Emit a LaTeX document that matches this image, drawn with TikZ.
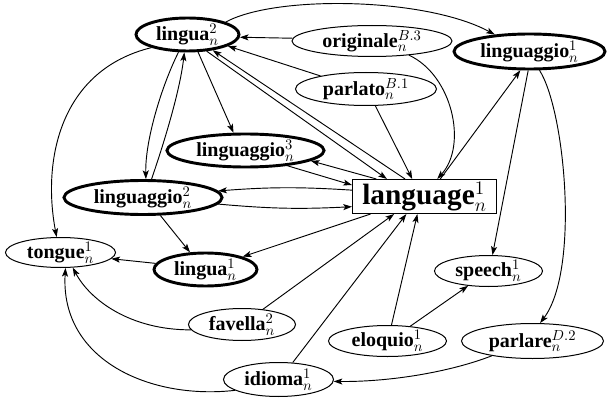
\documentclass[tikz,border=0pt]{standalone}
\usepackage{fontspec}
\setmainfont{Liberation Serif}
\usetikzlibrary{shapes.geometric,arrows.meta}
\begin{document}
\begin{tikzpicture}[x=0.75pt,y=-0.75pt,
  sz/.style 2 args={minimum width=#1*0.75pt, minimum height=#2*0.75pt},
  nd/.style={ellipse, draw, inner sep=0pt, font=\fontsize{15}{18}\selectfont},
  thinnd/.style={nd, line width=0.75pt},
  thicknd/.style={nd, line width=2.2pt},
  bignd/.style={rectangle, draw, line width=0.8pt, inner sep=0pt, font=\fontsize{22}{26}\selectfont},
  edge/.style={line width=0.7pt, -{Stealth[length=6.5pt,width=4.5pt,inset=1.5pt]}}
]
\useasboundingbox (0,0) rectangle (611,403);
% nodes
\node[thicknd, sz={103}{33}] (lingua2) at (187.5,34.5) {\textbf{lingua}$^{2}_{n}$};
\node[thinnd, sz={160}{31}] (originale) at (372,41) {\textbf{originale}$^{B.3}_{n}$};
\node[thicknd, sz={151}{35}] (linguaggio1) at (529.5,51.5) {\textbf{linguaggio}$^{1}_{n}$};
\node[thinnd, sz={141}{33}] (parlato) at (366,89) {\textbf{parlato}$^{B.1}_{n}$};
\node[thicknd, sz={157}{33}] (linguaggio3) at (245.5,150.5) {\textbf{linguaggio}$^{3}_{n}$};
\node[bignd, sz={144}{34}] (language) at (424.5,196.5) {\textbf{language}$^{1}_{n}$};
\node[thicknd, sz={158}{34}] (linguaggio2) at (143,197.5) {\textbf{linguaggio}$^{2}_{n}$};
\node[thinnd, sz={110}{30}] (tongue) at (60.5,252.5) {\textbf{tongue}$^{1}_{n}$};
\node[thicknd, sz={103}{33}] (lingua1) at (205.5,269.5) {\textbf{lingua}$^{1}_{n}$};
\node[thinnd, sz={108}{31}] (speech) at (488.5,271) {\textbf{speech}$^{1}_{n}$};
\node[thinnd, sz={107}{32}] (favella) at (242,324.5) {\textbf{favella}$^{2}_{n}$};
\node[thinnd, sz={118}{31}] (eloquio) at (387.5,341) {\textbf{eloquio}$^{1}_{n}$};
\node[thinnd, sz={142}{35}] (parlare) at (532.5,341) {\textbf{parlare}$^{D.2}_{n}$};
\node[thinnd, sz={110}{34}] (idioma) at (278.5,379.5) {\textbf{idioma}$^{1}_{n}$};
% edges
\draw[edge] (lingua2.18) .. controls (275,-5) and (425,-3) .. (linguaggio1.154);
\draw[edge] (originale.178) -- (lingua2.-3);
\draw[edge] (parlato.164) -- (lingua2.-16);
\draw[edge] (lingua2.-41) -- (language.155);
\draw[edge] (language.138) -- (lingua2.-32);
\draw[edge] (lingua2.-59) -- (linguaggio3.124);
\draw[edge] (parlato.-61) -- (language.125);
\draw[edge] (originale.-21) .. controls (452,75) and (468,145) .. (language.54);
\draw[edge] (language.48) -- (linguaggio1.-116);
\draw[edge] (linguaggio1.-94) -- (speech.76);
\draw[edge] (linguaggio1.-62) .. controls (565,110) and (580,270) .. (parlare.67);
\draw[edge] (lingua2.-117) .. controls (162,85) and (145,140) .. (linguaggio2.81);
\draw[edge] (linguaggio2.65) .. controls (165,140) and (180,90) .. (lingua2.-100);
\draw[edge] (lingua2.-160) .. controls (60,70) and (42,160) .. (tongue.104);
\draw[edge] (linguaggio2.-46) -- (lingua1.132);
\draw[edge] (language.-162) -- (lingua1.19);
\draw[edge] (language.160) -- (linguaggio3.-9);
\draw[edge] (linguaggio3.-20) -- (language.171);
\draw[edge] (language.175) to[bend right=4] (linguaggio2.5);
\draw[edge] (linguaggio2.-5) to[bend right=4] (language.-172);
\draw[edge] (lingua1.173) -- (tongue.-7);
\draw[edge] (favella.186) .. controls (130,330) and (90,300) .. (tongue.-51);
\draw[edge] (idioma.-166) .. controls (150,400) and (60,360) .. (tongue.-72);
\draw[edge] (favella.36) -- (language.-150);
\draw[edge] (idioma.50) -- (language.-136);
\draw[edge] (eloquio.76) -- (language.-112);
\draw[edge] (eloquio.33) -- (speech.-144);
\draw[edge] (parlare.-160) .. controls (450,372) and (390,382) .. (idioma.-2);
\end{tikzpicture}
\end{document}
